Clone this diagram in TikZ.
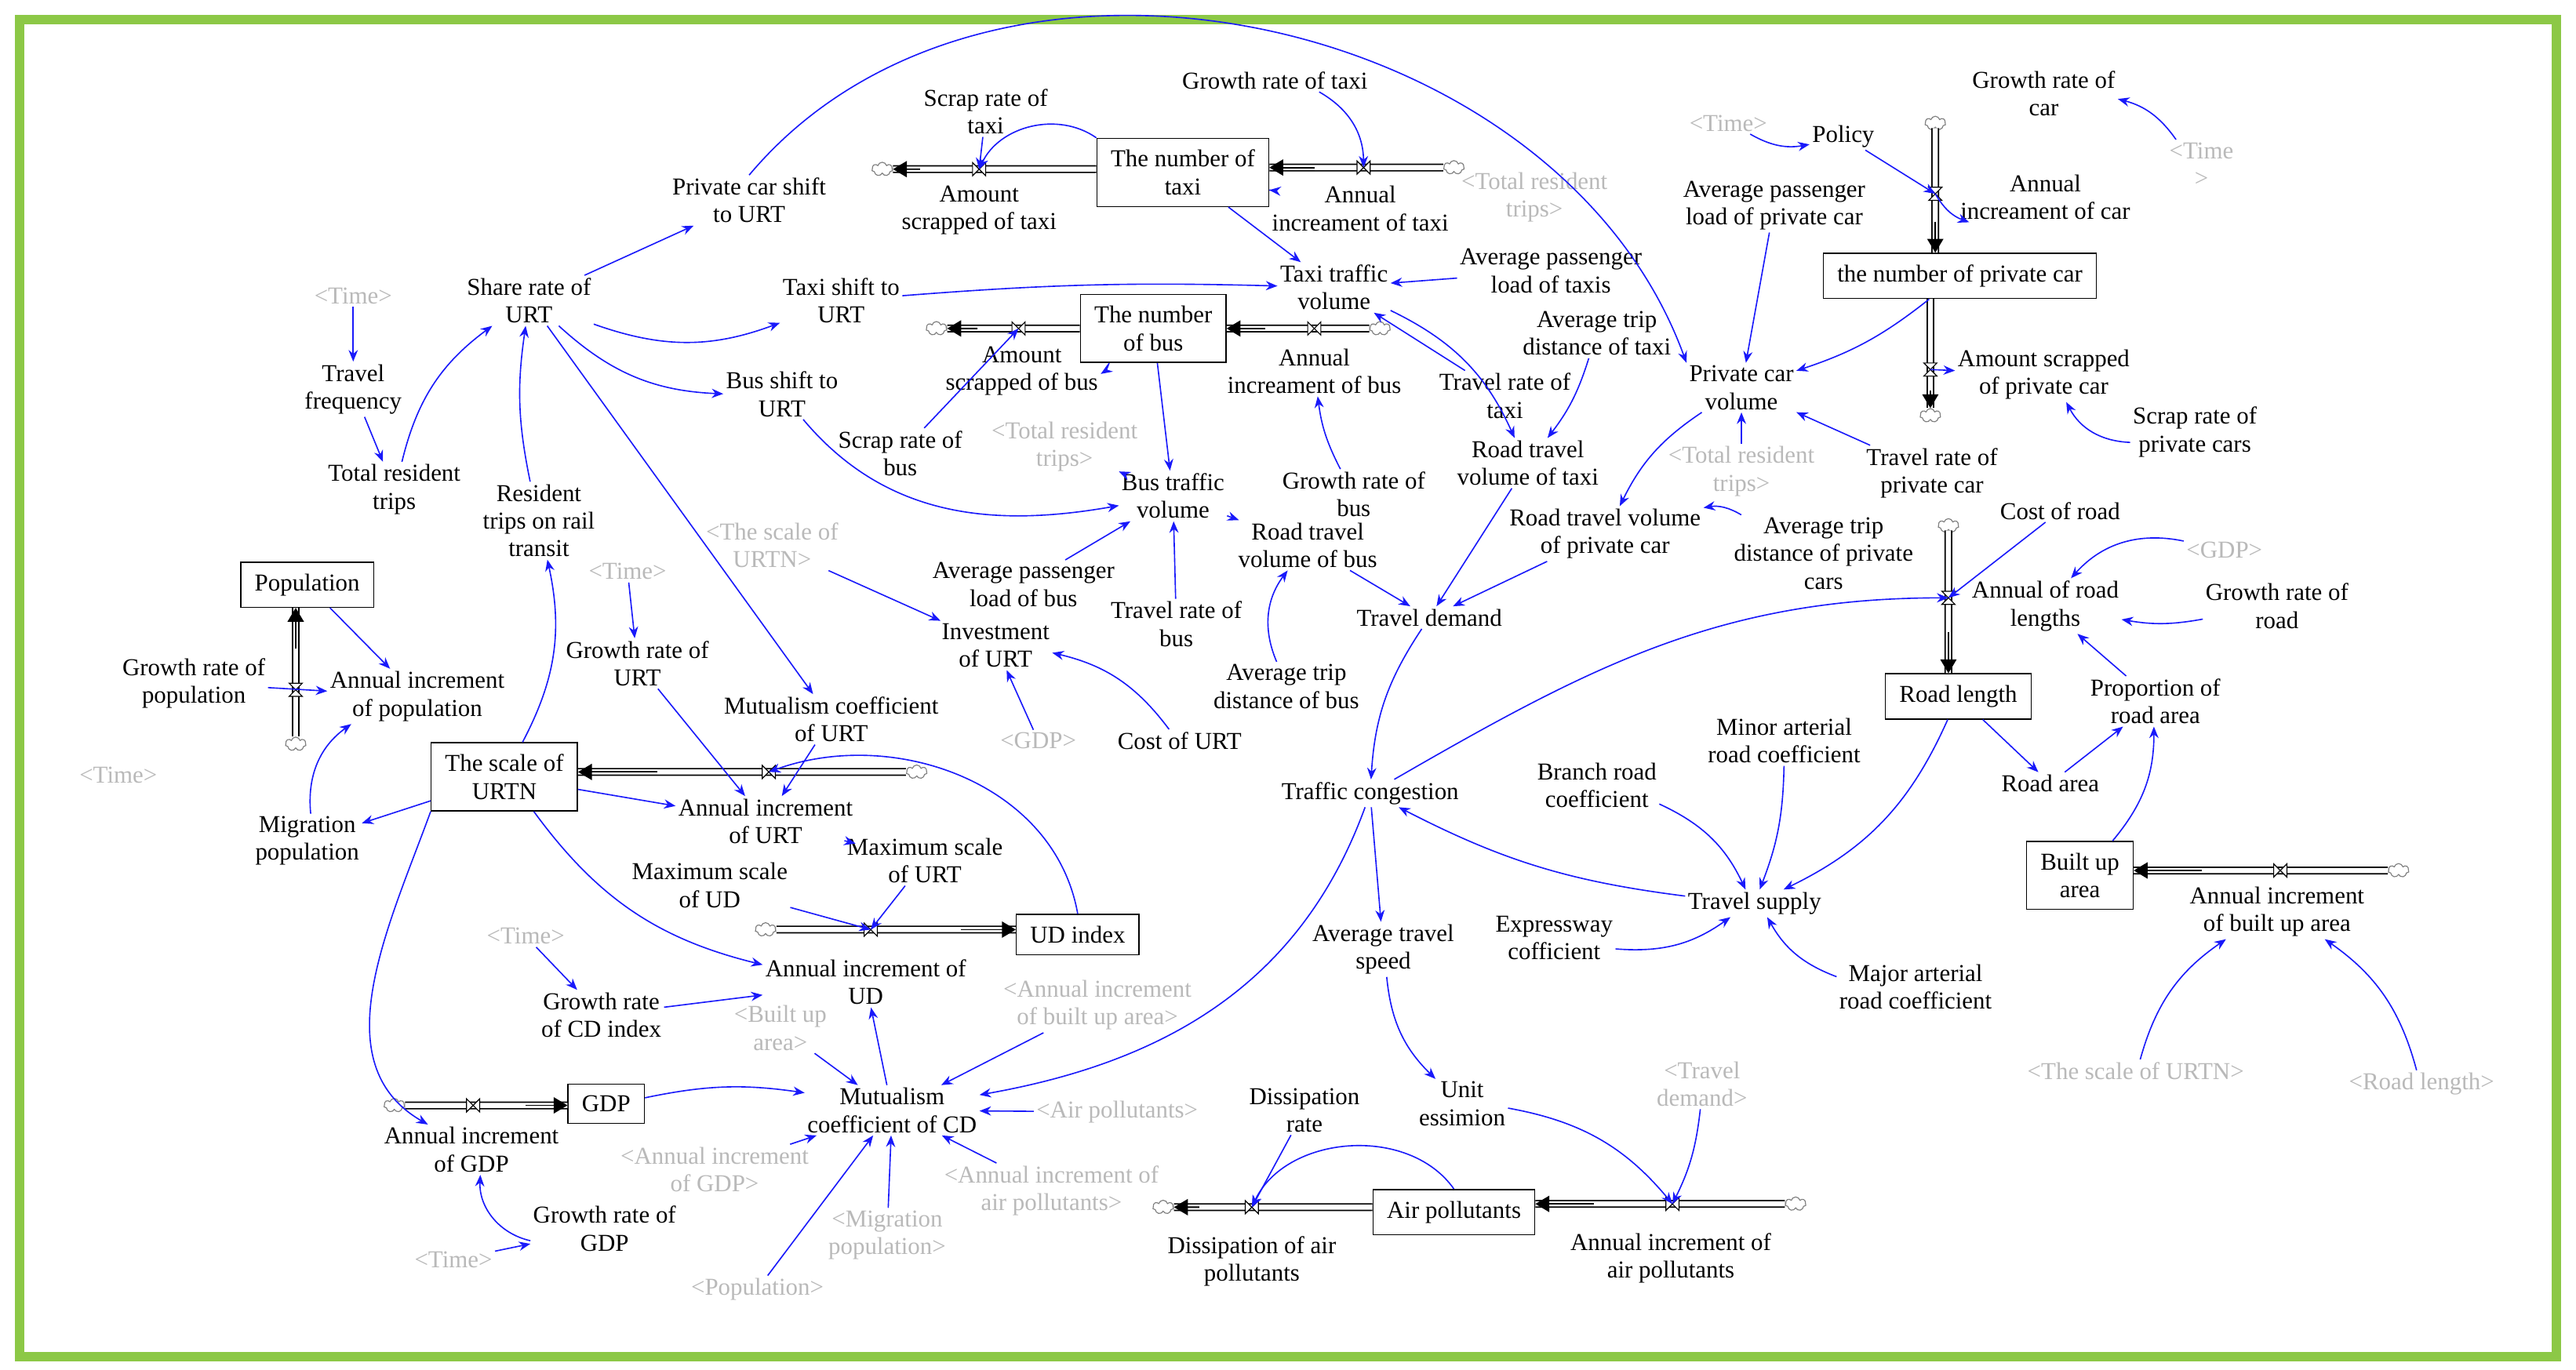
\documentclass[tikz,border=0pt]{standalone}
\usepackage{fontspec}
\setmainfont{Liberation Serif}
\usetikzlibrary{arrows.meta,shapes.symbols}
\definecolor{frm}{RGB}{140,200,70}
\definecolor{gry}{RGB}{185,185,185}
\definecolor{blu}{RGB}{25,25,250}
\begin{document}
\begin{tikzpicture}[x=0.025cm,y=-0.025cm,
 v/.style={align=center,font=\fontsize{10.5}{12}\selectfont,inner sep=1pt},
 g/.style={v,text=gry},
 bx/.style={v,draw,line width=0.5pt,inner xsep=6pt,inner ysep=5pt},
 a/.style={draw=blu,-{Stealth[length=5pt,width=4pt]},line width=0.55pt},
 pipe/.style={draw,double=white,double distance=2.2pt,line width=0.6pt},
 tip/.style={-{Triangle[length=6pt,width=7pt]},line width=0.6pt},
 cl/.style={cloud,cloud puffs=7,draw=gray,fill=white,minimum width=9pt,minimum height=6pt,inner sep=0pt,aspect=1.5},
 vh/.pic={\draw[fill=white,thin] (-4,-4)--(4,4)--(4,-4)--(-4,4)--cycle;},
 vv/.pic={\draw[fill=white,thin] (-4,-4)--(4,4)--(-4,4)--(4,-4)--cycle;}]
\useasboundingbox (0,0) rectangle (1568,834);
\draw[frm,line width=4pt] (12,12) rectangle (1556,826);
% stocks
\node[bx] (taxi) at (720,105) {The number of\\taxi};
\node[bx] (bus) at (702,200) {The number\\of bus};
\node[bx] (car) at (1193,168) {the number of private car};
\node[bx] (road) at (1192,424) {Road length};
\node[bx] (built) at (1266,533) {Built up\\area};
\node[bx] (air) at (885,738) {Air pollutants};
\node[bx] (pop) at (187,356) {Population};
\node[bx] (urtn) at (307,473) {The scale of\\URTN};
\node[bx] (ud) at (656,569) {UD index};
\node[bx] (gdp) at (369,672) {GDP};
% clouds and valves
\node[cl] (cT1) at (537,103) {}; \coordinate (vT1) at (596,103);
\node[cl] (cT2) at (885,102) {}; \coordinate (vT2) at (830,102);
\node[cl] (cB1) at (570,200) {}; \coordinate (vB1) at (620,200);
\node[cl] (cB2) at (840,200) {}; \coordinate (vB2) at (800,200);
\node[cl] (cC1) at (1178,75) {}; \coordinate (vC1) at (1178,118);
\node[cl] (cC2) at (1175,253) {}; \coordinate (vC2) at (1175,225);
\node[cl] (cR) at (1186,320) {}; \coordinate (vR) at (1186,364);
\node[cl] (cBu) at (1460,530) {}; \coordinate (vBu) at (1388,530);
\node[cl] (cA1) at (1093,733) {}; \coordinate (vA1) at (1018,733);
\node[cl] (cA2) at (708,735) {}; \coordinate (vA2) at (762,735);
\node[cl] (cP) at (180,453) {}; \coordinate (vP) at (180,420);
\node[cl] (cU) at (558,470) {}; \coordinate (vU) at (468,470);
\node[cl] (cUD) at (466,566) {}; \coordinate (vUD) at (530,566);
\node[cl] (cG) at (240,673) {}; \coordinate (vG) at (288,673);
\draw[pipe] (taxi.west|-vT1)--(cT1.east); \draw[tip] (560,103)--(cT1.east);
\draw[pipe] (cT2.west)--(taxi.east|-vT2); \draw[tip] (800,102)--(taxi.east|-vT2);
\draw[pipe] (bus.west|-vB1)--(cB1.east); \draw[tip] (595,200)--(cB1.east);
\draw[pipe] (cB2.west)--(bus.east|-vB2); \draw[tip] (770,200)--(bus.east|-vB2);
\draw[pipe] (cC1.south)--(car.north-|cC1); \draw[tip] (1178,135)--(car.north-|cC1);
\draw[pipe] (car.south-|cC2)--(cC2.north); \draw[tip] (1175,238)--(cC2.north);
\draw[pipe] (cR.south)--(road.north-|cR); \draw[tip] (1186,385)--(road.north-|cR);
\draw[pipe] (cBu.west)--(built.east|-vBu); \draw[tip] (1340,530)--(built.east|-vBu);
\draw[pipe] (cA1.west)--(air.east|-vA1); \draw[tip] (970,733)--(air.east|-vA1);
\draw[pipe] (air.west|-vA2)--(cA2.east); \draw[tip] (730,735)--(cA2.east);
\draw[pipe] (cP.north)--(pop.south-|cP); \draw[tip] (180,395)--(pop.south-|cP);
\draw[pipe] (cU.west)--(urtn.east|-vU); \draw[tip] (400,470)--(urtn.east|-vU);
\draw[pipe] (cUD.east)--(ud.west|-vUD); \draw[tip] (585,566)--(ud.west|-vUD);
\draw[pipe] (cG.east)--(gdp.west|-vG); \draw[tip] (320,673)--(gdp.west|-vG);
\foreach \p in {vT1,vT2,vB1,vB2,vBu,vA1,vA2,vU,vUD,vG} \pic at (\p) {vh};
\foreach \p in {vC1,vC2,vR,vP} \pic at (\p) {vv};
% variables
\node[v] (scrapT) at (600,68) {Scrap rate of\\taxi};
\node[v] (amtScrT) at (596,128) {Amount\\scrapped of taxi};
\node[v] (growT) at (776,49) {Growth rate of taxi};
\node[v] (annT) at (828,127) {Annual\\increament of taxi};
\node[v] (pcShift) at (456,122) {Private car shift\\to URT};
\node[v] (share) at (322,183) {Share rate of\\URT};
\node[g] (time1) at (215,180) {<Time>};
\node[v] (freq) at (215,237) {Travel\\frequency};
\node[v] (tot) at (240,298) {Total resident\\trips};
\node[v] (taxiShift) at (512,183) {Taxi shift to\\URT};
\node[v] (busShift) at (476,240) {Bus shift to\\URT};
\node[v] (resid) at (328,317) {Resident\\trips on rail\\transit};
\node[v] (amtScrB) at (622,226) {Amount\\scrapped of bus};
\node[v] (annB) at (800,226) {Annual\\increament of bus};
\node[v] (scrapB) at (548,276) {Scrap rate of\\bus};
\node[g] (tot2) at (648,272) {<Total resident\\trips>};
\node[v] (busTr) at (714,302) {Bus traffic\\volume};
\node[v] (growB) at (824,301) {Growth rate of\\bus};
\node[v] (roadBus) at (796,332) {Road travel\\volume of bus};
\node[v] (taxiTr) at (812,175) {Taxi traffic\\volume};
\node[v] (avgPT) at (944,165) {Average passenger\\load of taxis};
\node[v] (avgTT) at (972,203) {Average trip\\distance of taxi};
\node[v] (trRT) at (916,241) {Travel rate of\\taxi};
\node[v] (roadTaxi) at (930,282) {Road travel\\volume of taxi};
\node[g] (tot3) at (934,120) {<Total resident\\trips>};
\node[g] (time2) at (1052,75) {<Time>};
\node[v] (policy) at (1122,83) {Policy};
\node[v] (growCar) at (1244,57) {Growth rate of\\car};
\node[g] (time3) at (1340,100) {<Time\\>};
\node[v] (avgPC) at (1080,125) {Average passenger\\load of private car};
\node[v] (annCar) at (1245,120) {Annual\\increament of car};
\node[v] (amtScrC) at (1244,228) {Amount scrapped\\of private car};
\node[v] (scrapC) at (1336,263) {Scrap rate of\\private cars};
\node[v] (pcVol) at (1060,236) {Private car\\volume};
\node[g] (tot4) at (1060,287) {<Total resident\\trips>};
\node[v] (trRC) at (1176,288) {Travel rate of\\private car};
\node[v] (roadCar) at (977,325) {Road travel volume\\of private car};
\node[v] (avgTC) at (1110,337) {Average trip\\distance of private\\cars};
\node[v] (demand) at (870,376) {Travel demand};
\node[v] (costRoad) at (1254,311) {Cost of road};
\node[g] (gdp1) at (1354,335) {<GDP>};
\node[v] (annRoad) at (1245,369) {Annual of road\\lengths};
\node[v] (growRoad) at (1386,369) {Growth rate of\\road};
\node[v] (propRoad) at (1312,427) {Proportion of\\road area};
\node[v] (roadArea) at (1248,477) {Road area};
\node[v] (annBuilt) at (1386,555) {Annual increment\\of built up area};
\node[g] (urtnG) at (1300,652) {<The scale of URTN>};
\node[g] (roadLenG) at (1474,660) {<Road length>};
\node[v] (minor) at (1086,451) {Minor arterial\\road coefficient};
\node[v] (branch) at (972,478) {Branch road\\coefficient};
\node[v] (supply) at (1068,550) {Travel supply};
\node[v] (express) at (946,571) {Expressway\\cofficient};
\node[v] (major) at (1166,601) {Major arterial\\road coefficient};
\node[v] (cong) at (834,483) {Traffic congestion};
\node[v] (speed) at (842,578) {Average travel\\speed};
\node[v] (unitEm) at (890,672) {Unit\\essimion};
\node[g] (travDemG) at (1036,660) {<Travel\\demand>};
\node[v] (dissRate) at (794,676) {Dissipation\\rate};
\node[v] (dissAir) at (762,768) {Dissipation of air\\pollutants};
\node[v] (annAir) at (1017,766) {Annual increment of\\air pollutants};
\node[g] (urtnG2) at (470,332) {<The scale of\\URTN>};
\node[g] (time4) at (382,348) {<Time>};
\node[v] (avgPB) at (623,356) {Average passenger\\load of bus};
\node[v] (invest) at (606,393) {Investment\\of URT};
\node[v] (trRB) at (716,380) {Travel rate of\\bus};
\node[v] (avgTB) at (783,418) {Average trip\\distance of bus};
\node[v] (costURT) at (718,451) {Cost of URT};
\node[g] (gdpG) at (632,451) {<GDP>};
\node[v] (growURT) at (388,404) {Growth rate of\\URT};
\node[v] (mutURT) at (506,438) {Mutualism coefficient\\of URT};
\node[v] (growPop) at (118,416) {Growth rate of\\population};
\node[v] (annPop) at (254,424) {Annual increment\\of population};
\node[g] (timeG) at (72,472) {<Time>};
\node[v] (migr) at (187,512) {Migration\\population};
\node[v] (annURT) at (466,500) {Annual increment\\of URT};
\node[v] (maxUD) at (432,539) {Maximum scale\\of UD};
\node[v] (maxURT) at (563,524) {Maximum scale\\of URT};
\node[v] (annUD) at (527,598) {Annual increment of\\UD};
\node[g] (time5) at (320,570) {<Time>};
\node[v] (growCD) at (366,618) {Growth rate\\of CD index};
\node[g] (builtG) at (475,626) {<Built up\\area>};
\node[g] (annBuiltG) at (668,612) {<Annual increment\\of built up area>};
\node[v] (mutCD) at (543,676) {Mutualism\\coefficient of CD};
\node[g] (airG) at (680,677) {<Air pollutants>};
\node[v] (annGDP) at (287,700) {Annual increment\\of GDP};
\node[g] (annGDPG) at (435,712) {<Annual increment\\of GDP>};
\node[g] (annAirG) at (640,725) {<Annual increment of\\air pollutants>};
\node[v] (growGDP) at (368,748) {Growth rate of\\GDP};
\node[g] (time6) at (276,767) {<Time>};
\node[g] (migG) at (540,752) {<Migration\\population>};
\node[g] (popG) at (461,785) {<Population>};
% links
\draw[a] (scrapT) -- (vT1);
\draw[a] (taxi.north west) to[bend right=50] (vT1);
\draw[a] (growT) to[bend left=30] (vT2);
\draw[a] (taxi) -- (annT);
\draw[a] (taxi) -- (taxiTr);
\draw[a] (share) -- (pcShift);
\draw[a] (pcShift.north) to[out=50,in=110] (pcVol.north west);
\draw[a] (time1) -- (freq);
\draw[a] (freq) -- (tot);
\draw[a] (tot) to[bend left=20] (share);
\draw[a] (resid) to[bend left=10] (share);
\draw[a] (share) to[bend right=20] (taxiShift);
\draw[a] (share) to[bend right=20] (busShift);
\draw[a] (share) -- (mutURT);
\draw[a] (taxiShift) to[bend left=3] (taxiTr);
\draw[a] (busShift) to[out=-50,in=190] (busTr);
\draw[a] (scrapB) -- (vB1);
\draw[a] (bus) to[bend left=20] (amtScrB);
\draw[a] (growB) to[bend left=10] (annB);
\draw[a] (bus) -- (busTr);
\draw[a] (tot2) -- (busTr);
\draw[a] (busTr) -- (roadBus);
\draw[a] (trRB) -- (busTr);
\draw[a] (avgPB) -- (busTr);
\draw[a] (roadBus) -- (demand);
\draw[a] (avgTB) to[bend left=30] (roadBus);
\draw[a] (avgPT) -- (taxiTr);
\draw[a] (taxiTr) to[bend left=20] (roadTaxi);
\draw[a] (trRT) -- (taxiTr);
\draw[a] (avgTT) to[bend left=10] (roadTaxi);
\draw[a] (roadTaxi) -- (demand);
\draw[a] (time2) to[bend right=20] (policy);
\draw[a] (policy) -- (vC1);
\draw[a] (time3) to[bend right=20] (growCar);
\draw[a] (vC1) to[bend right=20] (annCar);
\draw[a] (avgPC) -- (pcVol);
\draw[a] (car) to[bend left=10] (pcVol);
\draw[a] (tot4) -- (pcVol);
\draw[a] (trRC) -- (pcVol);
\draw[a] (pcVol) to[bend right=15] (roadCar);
\draw[a] (avgTC) to[bend right=20] (roadCar);
\draw[a] (roadCar) -- (demand);
\draw[a] (vC2) -- (amtScrC);
\draw[a] (scrapC) to[bend left=30] (amtScrC);
\draw[a] (demand) to[bend right=15] (cong);
\draw[a] (cong) to[out=30,in=180] (vR);
\draw[a] (costRoad) -- (vR);
\draw[a] (gdp1) to[bend right=30] (annRoad);
\draw[a] (growRoad) to[bend left=10] (annRoad);
\draw[a] (propRoad) -- (annRoad);
\draw[a] (road) -- (roadArea);
\draw[a] (roadArea) -- (propRoad);
\draw[a] (built) to[bend right=20] (propRoad);
\draw[a] (road) to[bend left=20] (supply);
\draw[a] (minor) to[bend left=10] (supply);
\draw[a] (branch) to[bend left=20] (supply);
\draw[a] (express) to[bend right=20] (supply);
\draw[a] (major) to[bend left=20] (supply);
\draw[a] (supply) to[bend left=10] (cong);
\draw[a] (cong) -- (speed);
\draw[a] (speed) to[bend right=20] (unitEm);
\draw[a] (unitEm) to[bend left=20] (vA1);
\draw[a] (travDemG) to[bend left=10] (vA1);
\draw[a] (dissRate) -- (vA2);
\draw[a] (air.north) to[bend right=60] (vA2);
\draw[a] (cong) to[out=-110,in=10] (mutCD);
\draw[a] (urtnG) to[bend left=20] (annBuilt);
\draw[a] (roadLenG) to[bend right=20] (annBuilt);
\draw[a] (urtnG2) -- (invest);
\draw[a] (time4) -- (growURT);
\draw[a] (costURT) to[bend right=20] (invest);
\draw[a] (gdpG) -- (invest);
\draw[a] (growURT) -- (annURT);
\draw[a] (mutURT) -- (annURT);
\draw[a] (urtn) -- (annURT);
\draw[a] (maxURT) -- (annURT);
\draw[a] (ud.north) to[out=100,in=20] (vU);
\draw[a] (pop) -- (annPop);
\draw[a] (growPop) -- (annPop);
\draw[a] (migr) to[bend left=30] (annPop);
\draw[a] (urtn) -- (migr);
\draw[a] (urtn) to[bend right=20] (resid);
\draw[a] (urtn) to[bend right=20] (annUD);
\draw[a] (urtn.south west) to[out=-110,in=150] (annGDP);
\draw[a] (maxUD) -- (vUD);
\draw[a] (maxURT) -- (vUD);
\draw[a] (time5) -- (growCD);
\draw[a] (growCD) -- (annUD);
\draw[a] (mutCD) -- (annUD);
\draw[a] (builtG) -- (mutCD);
\draw[a] (annBuiltG) -- (mutCD);
\draw[a] (gdp) to[bend left=10] (mutCD);
\draw[a] (airG) -- (mutCD);
\draw[a] (annAirG) -- (mutCD);
\draw[a] (migG) -- (mutCD);
\draw[a] (popG) -- (mutCD);
\draw[a] (annGDPG) -- (mutCD);
\draw[a] (growGDP) to[bend left=40] (annGDP);
\draw[a] (time6) -- (growGDP);
\end{tikzpicture}
\end{document}
